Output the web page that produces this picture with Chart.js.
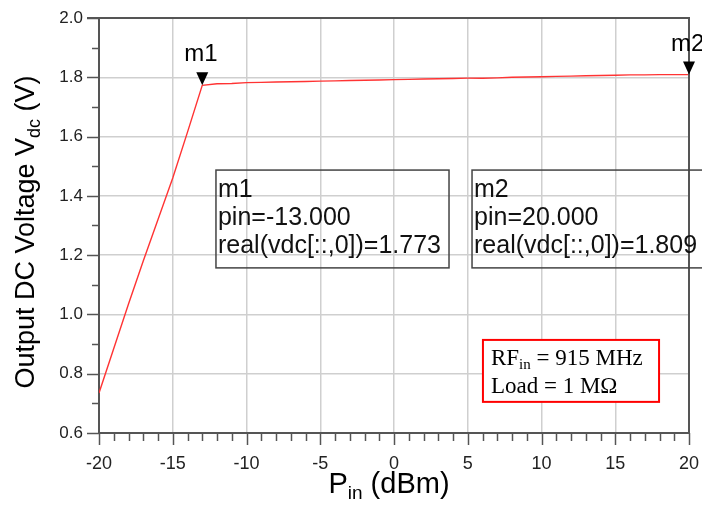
<!DOCTYPE html>
<html>
<head>
<meta charset="utf-8">
<script src="https://cdn.jsdelivr.net/npm/chart.js@4.4.1/dist/chart.umd.min.js"></script>
<style>
  html, body { margin: 0; padding: 0; background: #fff; }
  #wrap { width: 702px; height: 506px; }
</style>
</head>
<body>
<div id="wrap"><canvas id="chart"></canvas></div>
<script>
// input power (dBm) and measured output DC voltage (V)
const pinDbm = [-20, -19, -18, -17, -16, -15, -14, -13, -12, -11, -10, -9, -8, -7, -6, -5, -4, -3, -2, -1,
  0, 1, 2, 3, 4, 5, 6, 7, 8, 9, 10, 11, 12, 13, 14, 15, 16, 17, 18, 19, 20];
const vdc = [0.735, 0.885, 1.035, 1.18, 1.32, 1.46, 1.615, 1.773, 1.778, 1.779, 1.782, 1.783, 1.784, 1.785,
  1.786, 1.787, 1.788, 1.789, 1.790, 1.791, 1.792, 1.793, 1.794, 1.795, 1.796, 1.797, 1.797, 1.798,
  1.800, 1.801, 1.802, 1.803, 1.804, 1.805, 1.806, 1.807, 1.808, 1.808, 1.809, 1.809, 1.809];

const markers = [
  {name: 'm1', pin: -13, v: 1.773},
  {name: 'm2', pin: 20, v: 1.809}
];
const xTicks = [-20, -15, -10, -5, 0, 5, 10, 15, 20];
const yTicks = [0.6, 0.8, 1.0, 1.2, 1.4, 1.6, 1.8, 2.0];

const AXIS = '#555';
const GRID = '#cfcfcf';

const extras = {
  id: 'extras',
  afterDraw(chart) {
    const ctx = chart.ctx;
    const xs = chart.scales.x, ys = chart.scales.y;
    const area = chart.chartArea;
    ctx.save();

    // frame: top and right
    ctx.strokeStyle = AXIS;
    ctx.lineWidth = 2;
    ctx.beginPath();
    ctx.moveTo(area.left - 12, area.top);
    ctx.lineTo(area.right, area.top);
    ctx.lineTo(area.right, area.bottom);
    ctx.stroke();

    // y ticks (major every 0.2, minor every 0.1)
    ctx.lineWidth = 1.5;
    for (let v = 0.6; v <= 2.0001; v += 0.1) {
      const py = Math.round(ys.getPixelForValue(v)) + 0.5;
      const major = Math.abs(Math.round(v * 10) % 2) === 0;
      ctx.beginPath();
      ctx.moveTo(area.left - (major ? 12 : 7), py);
      ctx.lineTo(area.left, py);
      ctx.stroke();
    }
    // x ticks (major every 5, minor every 1)
    for (let p = -20; p <= 20; p++) {
      const px = Math.round(xs.getPixelForValue(p)) + 0.5;
      const major = p % 5 === 0;
      ctx.beginPath();
      ctx.moveTo(px, area.bottom);
      ctx.lineTo(px, area.bottom + (major ? 12 : 8));
      ctx.stroke();
    }

    // marker triangles and names
    ctx.fillStyle = '#000';
    ctx.font = '24px Arial, "Liberation Sans", sans-serif';
    ctx.textAlign = 'left';
    ctx.textBaseline = 'alphabetic';
    markers.forEach(m => {
      const px = xs.getPixelForValue(m.pin);
      const py = ys.getPixelForValue(m.v);
      ctx.beginPath();
      ctx.moveTo(px - 6, py - 13);
      ctx.lineTo(px + 6, py - 13);
      ctx.lineTo(px, py);
      ctx.closePath();
      ctx.fill();
      ctx.fillText(m.name, px - 18, py - 24);
    });

    // readout boxes
    const boxes = [
      {m: markers[0], x0: -12.07, x1: 3.73},
      {m: markers[1], x0: 5.29, x1: 21.6}
    ];
    boxes.forEach(b => {
      const l = xs.getPixelForValue(b.x0), r = xs.getPixelForValue(b.x1);
      const t = ys.getPixelForValue(1.487), btm = ys.getPixelForValue(1.157);
      ctx.strokeStyle = '#444';
      ctx.lineWidth = 1.5;
      ctx.strokeRect(l, t, r - l, btm - t);
      ctx.fillStyle = '#111';
      ctx.font = '25px Arial, "Liberation Sans", sans-serif';
      const lines = [b.m.name, 'pin=' + b.m.pin.toFixed(3), 'real(vdc[::,0])=' + b.m.v.toFixed(3)];
      lines.forEach((s, i) => ctx.fillText(s, l + 2, t + 27 + i * 28));
    });

    // condition box
    const rl = xs.getPixelForValue(6.03), rr = xs.getPixelForValue(17.97);
    const rt = ys.getPixelForValue(0.914), rb = ys.getPixelForValue(0.705);
    ctx.fillStyle = '#fff';
    ctx.fillRect(rl, rt, rr - rl, rb - rt);
    ctx.strokeStyle = '#f00';
    ctx.lineWidth = 2;
    ctx.strokeRect(rl, rt, rr - rl, rb - rt);
    ctx.fillStyle = '#000';
    const serif = '"Liberation Serif", "Times New Roman", serif';
    let cx = rl + 8, cy = rt + 25;
    ctx.font = '23px ' + serif;
    ctx.fillText('RF', cx, cy);
    cx += ctx.measureText('RF').width;
    ctx.font = '15px ' + serif;
    ctx.fillText('in', cx, cy + 4);
    cx += ctx.measureText('in').width;
    ctx.font = '23px ' + serif;
    ctx.fillText(' = 915 MHz', cx, cy);
    ctx.fillText('Load = 1 M\u03A9', rl + 8, cy + 28);

    // axis titles
    const sans = 'Arial, "Liberation Sans", sans-serif';
    const drawSub = (parts, x, y, big, small) => {
      let w = 0;
      parts.forEach(p => { ctx.font = (p.sub ? small : big) + 'px ' + sans; w += ctx.measureText(p.t).width; });
      let cx2 = x - w / 2;
      parts.forEach(p => {
        ctx.font = (p.sub ? small : big) + 'px ' + sans;
        ctx.fillText(p.t, cx2, y + (p.sub ? 6 : 0));
        cx2 += ctx.measureText(p.t).width;
      });
    };
    ctx.fillStyle = '#000';
    drawSub([{t: 'P'}, {t: 'in', sub: true}, {t: ' (dBm)'}], 389, 493, 29, 19);
    ctx.save();
    ctx.translate(34, 232);
    ctx.rotate(-Math.PI / 2);
    drawSub([{t: 'Output DC Voltage V'}, {t: 'dc', sub: true}, {t: ' (V)'}], 0, 0, 27, 18);
    ctx.restore();

    ctx.restore();
  }
};

new Chart(document.getElementById('chart'), {
  type: 'line',
  data: {
    datasets: [{
      data: pinDbm.map((p, i) => ({x: p, y: vdc[i]})),
      borderColor: '#ff3333',
      borderWidth: 1.4,
      pointRadius: 0,
      tension: 0,
      fill: false
    }]
  },
  options: {
    responsive: true,
    maintainAspectRatio: false,
    animation: false,
    events: [],
    layout: {padding: {top: 18, right: 13, left: 0, bottom: 0}},
    plugins: {legend: {display: false}, tooltip: {enabled: false}},
    scales: {
      x: {
        type: 'linear',
        min: -20, max: 20,
        afterBuildTicks: s => { s.ticks = xTicks.map(v => ({value: v})); },
        afterFit: s => { s.height = 73; s.paddingLeft = 0; s.paddingRight = 0; },
        grid: {color: GRID, lineWidth: 1.5, drawTicks: false},
        border: {display: true, color: AXIS, width: 2},
        ticks: {
          padding: 20,
          color: '#222',
          font: {family: 'Arial, "Liberation Sans", sans-serif', size: 18},
          callback: v => String(v)
        }
      },
      y: {
        min: 0.6, max: 2.0,
        afterBuildTicks: s => { s.ticks = yTicks.map(v => ({value: v})); },
        afterFit: s => { s.width = 99; s.paddingTop = 0; s.paddingBottom = 0; },
        grid: {color: GRID, lineWidth: 1.5, drawTicks: false},
        border: {display: true, color: AXIS, width: 2},
        ticks: {
          padding: 16,
          color: '#222',
          font: {family: 'Arial, "Liberation Sans", sans-serif', size: 17},
          callback: v => v.toFixed(1)
        }
      }
    }
  },
  plugins: [extras]
});
</script>
</body>
</html>
